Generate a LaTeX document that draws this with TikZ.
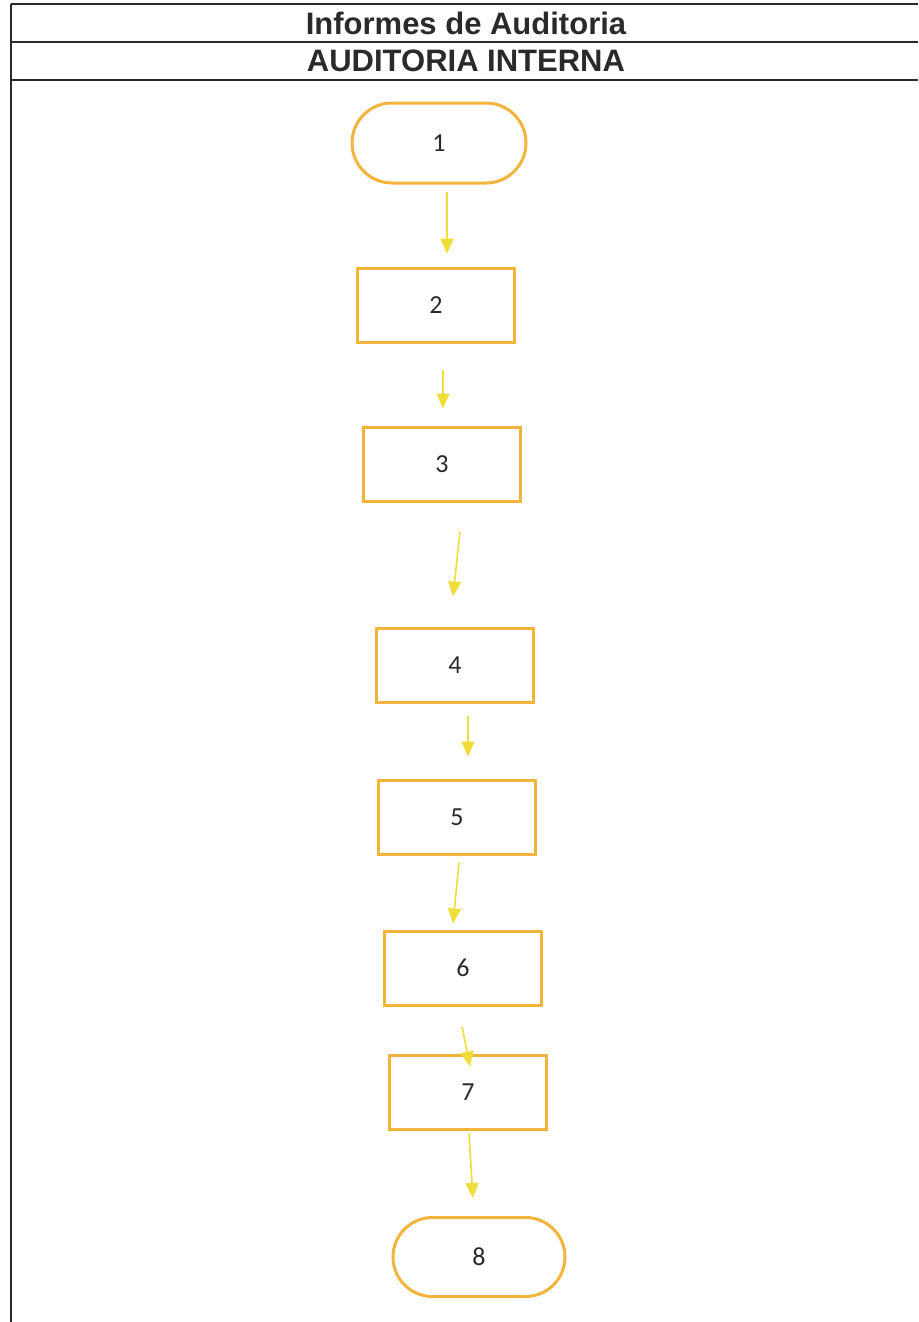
\documentclass[tikz,border=0pt]{standalone}
\usepackage{fontspec}
\setmainfont{Liberation Sans}
\newfontfamily\fcNum{Carlito}
\usetikzlibrary{arrows.meta,shapes.misc}
\definecolor{fcGold}{HTML}{F3B43C}
\definecolor{fcLemon}{HTML}{EEDD3A}
\definecolor{fcInk}{HTML}{2A2A2A}
\tikzset{fc/base/.style={x=1pt,y=-1pt,line cap=butt,line join=miter,
  every node/.style={inner sep=0pt,text=fcInk}},
  fc/rule/.style={draw=fcInk,line width=1.8pt},
  fc/head/.style={font=\fontsize{31}{34}\selectfont\bfseries},
  fc/stepbox/.style={draw=fcGold,fill=white,line width=3pt,minimum width=157pt,
    minimum height=74pt,font=\fcNum\fontsize{26}{30}\selectfont},
  fc/terminal/.style={fc/stepbox,rounded rectangle,minimum width=174pt,minimum height=80pt},
  fc/flow/.style={-{Triangle[length=15pt,width=13pt]},draw=fcLemon,line width=1.6pt}}

\begin{document}
\begin{tikzpicture}[fc/base]
  \useasboundingbox (0,0) rectangle (918,1322);
  % header table, cut off at the right edge of the page
  \draw[fc/rule] (11,4)--(918,4) (11,42)--(918,42) (11,80)--(918,80);
  \draw[fc/rule] (11,4)--(11,1322);
  \node[fc/head] (hdrTitle) at (466,23) {Informes de Auditoria};
  \node[fc/head] (hdrUnit) at (466,61) {AUDITORIA INTERNA};
  % flow steps
  \node[fc/terminal] (s1) at (439,143) {1};
  \node[fc/stepbox] (s2) at (436,305) {2};
  \node[fc/stepbox] (s3) at (442,464) {3};
  \node[fc/stepbox] (s4) at (455,665) {4};
  \node[fc/stepbox] (s5) at (457,817) {5};
  \node[fc/stepbox] (s6) at (463,968) {6};
  \node[fc/stepbox] (s7) at (468,1092) {7};
  \node[fc/terminal,minimum width=172pt,minimum height=79pt] (s8) at (479,1257) {8};
  % arrows float between the boxes, a little off centre as scanned
  \foreach \a/\b/\sx/\sy/\ex/\ey in {s1/s2/8/-7/11/13, s2/s3/7/-26/1/17,
      s3/s4/18/-29/-2/30, s4/s5/13/-12/11/22, s5/s6/2/-7/-10/6,
      s6/s7/-1/-20/2/-13, s7/s8/1/-3/-6/18}{%
    \draw[fc/flow] ([xshift=\sx pt,yshift=\sy pt]\a.south)
      -- ([xshift=\ex pt,yshift=\ey pt]\b.north);}
\end{tikzpicture}
\end{document}
